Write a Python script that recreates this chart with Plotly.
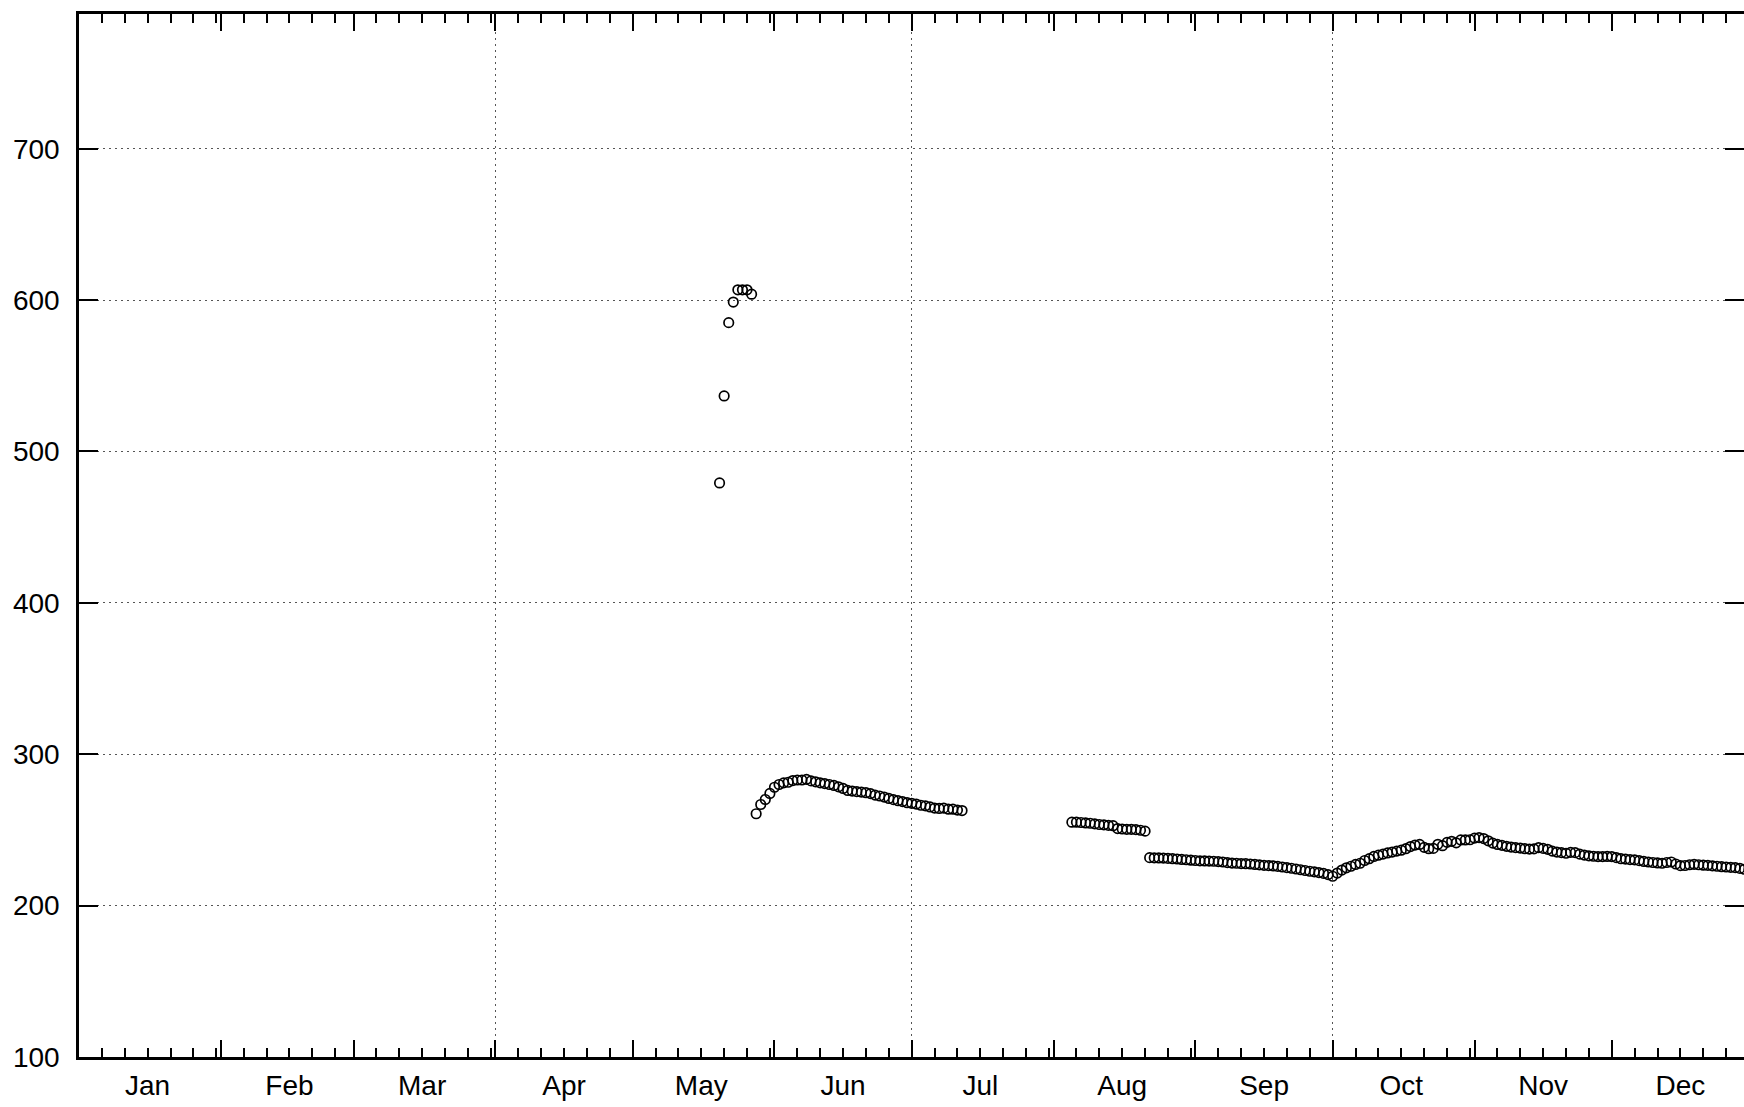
import plotly.graph_objects as go

# ---- data (day of year, leap year, Jan 1 = 0) ----
month_names = ["Jan", "Feb", "Mar", "Apr", "May", "Jun",
               "Jul", "Aug", "Sep", "Oct", "Nov", "Dec"]
month_starts = [0, 31, 60, 91, 121, 152, 182, 213, 244, 274, 305, 335, 366]
grid_months = ["Apr", "Jul", "Oct"]
y_ticks = [100, 200, 300, 400, 500, 600, 700]

# daily observations, each segment: first day + consecutive values
seg1_start = 140
seg1_vals = [479.2, 536.7, 585.1, 598.7, 606.8, 606.8, 606.8, 603.9]

seg2_start = 148
seg2_vals = [260.7, 266.8, 270.1, 274.1, 278.2, 280.0, 281.1, 281.5, 282.6, 283.0,
             283.0, 283.4, 282.4, 281.8, 281.1, 280.6, 280.0, 279.4, 278.5, 277.4,
             276.1, 275.7, 275.3, 275.0, 274.6, 274.0, 273.0, 272.4, 271.7, 270.8,
             270.0, 269.3, 268.7, 268.0, 267.6, 267.1, 266.3, 265.9, 265.2, 264.4,
             264.2, 264.4, 263.7, 263.7, 263.1, 262.8]

seg3_start = 217
seg3_vals = [255.1, 255.1, 254.9, 254.6, 254.4, 254.0, 253.6, 253.4, 253.0, 252.8,
             250.9, 250.6, 250.4, 250.4, 250.2, 249.8, 249.2]

seg4_start = 234
seg4_vals = [231.7, 231.6, 231.5, 231.4, 231.2, 231.0, 230.8, 230.5, 230.3, 230.0,
             229.8, 229.6, 229.5, 229.4, 229.3, 229.1, 228.8, 228.4, 228.1, 228.0,
             227.8, 227.7, 227.5, 227.2, 226.9, 226.6, 226.4, 226.2, 225.9, 225.5,
             225.1, 224.7, 224.2, 223.7, 223.2, 222.7, 222.3, 221.8, 221.3, 220.5,
             219.4,
             221.5, 223.5, 225.0, 226.0, 227.2, 228.0, 229.8, 231.0, 232.5, 233.3,
             234.0, 234.8, 235.4, 236.0, 236.6, 237.6, 239.0, 240.0, 240.4, 238.5,
             237.6, 237.8, 240.5, 239.6, 241.8, 242.5, 241.5, 243.4, 243.4, 243.5,
             244.6, 244.9, 244.3, 242.8, 241.3, 240.4, 239.8, 239.2, 238.7, 238.3,
             238.0, 237.6, 237.3, 237.5, 238.3, 237.8, 237.2, 236.0, 235.4, 235.0,
             234.6, 235.2, 235.0, 234.0, 233.4, 232.9, 232.6, 232.4, 232.4, 232.5,
             232.4, 231.7, 231.0, 230.7, 230.4, 230.2, 229.7, 229.2, 228.8, 228.5,
             228.2, 228.0, 228.5, 228.8, 227.5, 226.4, 226.5, 227.0, 227.3, 227.0,
             226.7, 226.6, 226.3, 226.0, 225.7, 225.5, 225.3, 225.1, 224.6, 224.0,
             223.8]

segments = [(seg1_start, seg1_vals), (seg2_start, seg2_vals),
            (seg3_start, seg3_vals), (seg4_start, seg4_vals)]

# ---- derived axis helpers ----
label_pos = [s + 15 for s in month_starts[:-1]]
minor_pos = []
for a, b in zip(month_starts[:-1], month_starts[1:]):
    k = a + 5
    while k < b:
        minor_pos.append(k)
        k += 5
grid_pos = [month_starts[month_names.index(m)] for m in grid_months]

FONT = "Liberation Sans, Arial, sans-serif"
X_RANGE = [0, 363.9]   # right border of the original sits just beyond the image
Y_RANGE = [100, 789]
GRID = "#555555"

fig = go.Figure()
xs, ys = [], []
for start, vals in segments:
    xs += [start + i for i in range(len(vals))]
    ys += vals
fig.add_trace(go.Scatter(
    x=xs, y=ys, mode="markers",
    marker=dict(symbol="circle-open", size=9.5, color="black",
                line=dict(width=1.7, color="black")),
    showlegend=False, hoverinfo="skip"))

# dummy traces so overlay axes are rendered
fig.add_trace(go.Scatter(x=[None], y=[None], xaxis="x2", yaxis="y", showlegend=False))
fig.add_trace(go.Scatter(x=[None], y=[None], xaxis="x3", yaxis="y", showlegend=False))
fig.add_trace(go.Scatter(x=[None], y=[None], xaxis="x", yaxis="y2", showlegend=False))

fig.update_layout(
    width=1744, height=1107,
    margin=dict(l=79, r=0, t=14, b=50, pad=0),
    paper_bgcolor="white", plot_bgcolor="white",
    font=dict(family=FONT, size=28, color="black"),
    showlegend=False,
    xaxis=dict(
        range=X_RANGE, tickmode="array", tickvals=label_pos, ticktext=month_names,
        ticks="", showgrid=False, zeroline=False,
        showline=True, linewidth=2.5, linecolor="black", mirror="ticks",
        ticklabelstandoff=2,
        minor=dict(tickmode="array", tickvals=minor_pos, ticks="inside",
                   ticklen=9, tickwidth=2, tickcolor="black", showgrid=False),
    ),
    xaxis2=dict(
        range=X_RANGE, overlaying="x", anchor="y", side="bottom",
        tickmode="array", tickvals=month_starts[:-1], ticks="inside",
        ticklen=17, tickwidth=2, tickcolor="black", mirror="ticks",
        showticklabels=False, showgrid=False, zeroline=False, showline=False,
    ),
    xaxis3=dict(
        range=X_RANGE, overlaying="x", anchor="y", side="bottom",
        tickmode="array", tickvals=grid_pos, ticks="",
        showticklabels=False, showgrid=True, gridcolor=GRID, gridwidth=1,
        griddash="2px,4px", zeroline=False, showline=False,
    ),
    yaxis=dict(
        range=Y_RANGE, tickmode="array", tickvals=y_ticks,
        ticks="inside", ticklen=19, tickwidth=2, tickcolor="black",
        showline=True, linewidth=2.5, linecolor="black", mirror=False,
        showgrid=True, gridcolor=GRID, gridwidth=1, griddash="2px,4px",
        zeroline=False, ticklabelstandoff=11,
    ),
    yaxis2=dict(
        range=Y_RANGE, overlaying="y", anchor="x", side="right",
        tickmode="array", tickvals=y_ticks, ticks="inside", ticklen=19,
        tickwidth=2, tickcolor="black", showticklabels=False,
        showgrid=False, zeroline=False, showline=False,
    ),
)

fig.write_html(
    "out.html",
    config={"displayModeBar": False},
    post_script="document.body.style.margin='0';document.body.style.overflow='hidden';",
)
